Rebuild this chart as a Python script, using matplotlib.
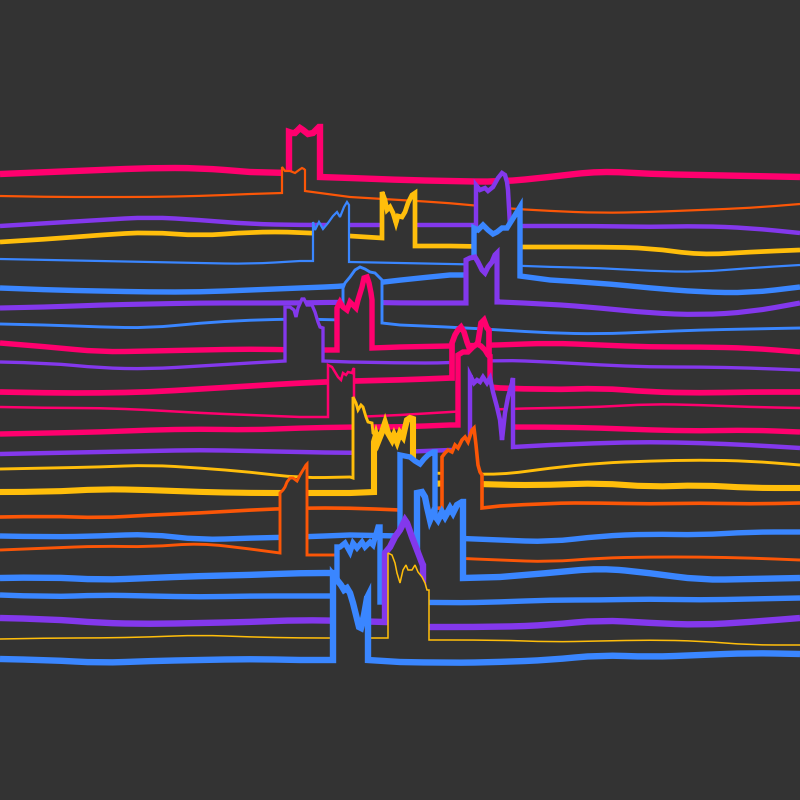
import matplotlib
matplotlib.use("Agg")
import matplotlib.pyplot as plt
from matplotlib.path import Path
from matplotlib.patches import PathPatch

BG = "#333333"
PINK, ORANGE, PURPLE, YELLOW, BLUE = "#FF006E", "#FB5607", "#8338EC", "#FFBE0B", "#3A86FF"

# sample positions of the slow drift, shared by every trace
X_GRID = [0, 50, 100, 150, 200, 250, 300, 350, 400, 450, 500, 550, 600, 650, 700, 750, 800]

# depth of each trace (top = 0) at X_GRID, plus its burst segment
LEVEL_01 = [174, 172, 170, 168, 168, 172, 173, 178, 180, 181, 182, 177, 171, 174, 175, 176, 177]
BUMP_X_01 = [289, 289, 292, 295, 300, 303, 308, 313, 316, 319, 320, 320]
BUMP_Y_01 = [173, 132, 133, 133, 128, 130, 134, 133, 130, 127, 127, 177]

LEVEL_02 = [196, 197, 197, 197, 196, 194, 193, 197, 200, 203, 208, 211, 213, 212, 210, 208, 204]
BUMP_X_02 = [282, 282, 285, 290, 295, 299, 302, 304, 305, 305]
BUMP_Y_02 = [193, 167, 171, 171, 173, 170, 168, 169, 170, 191]

LEVEL_03 = [226, 223, 220, 217, 220, 224, 225, 225, 225, 225, 226, 226, 226, 227, 226, 228, 233]
BUMP_X_03 = [476, 476, 480, 485, 488, 493, 498, 502, 505, 507, 508, 510]
BUMP_Y_03 = [225, 185, 190, 188, 191, 187, 178, 173, 175, 182, 190, 226]

LEVEL_04 = [242, 239, 235, 232, 236, 232, 232, 236, 238, 246, 247, 247, 247, 248, 255, 252, 250]
BUMP_X_04 = [382, 382, 385, 387, 390, 393, 396, 398, 402, 405, 408, 412, 415, 415]
BUMP_Y_04 = [238, 192, 200, 210, 207, 213, 223, 216, 217, 212, 203, 195, 193, 246]

LEVEL_05 = [259, 260, 261, 262, 263, 264, 261, 262, 263, 264, 265, 267, 268, 271, 272, 268, 265]
BUMP_X_05 = [313, 313, 315, 319, 323, 328, 333, 337, 340, 344, 347, 349, 349]
BUMP_Y_05 = [261, 222, 230, 222, 229, 223, 216, 212, 217, 207, 202, 205, 262]

LEVEL_06 = [288, 290, 291, 292, 292, 290, 288, 286, 280, 275, 276, 280, 283, 288, 292, 293, 287]
BUMP_X_06 = [474, 474, 478, 483, 488, 493, 497, 502, 507, 512, 517, 520, 520]
BUMP_Y_06 = [275, 228, 230, 225, 230, 234, 232, 228, 228, 220, 212, 207, 276]

LEVEL_07 = [308, 307, 305, 304, 303, 303, 303, 302, 303, 303, 302, 304, 308, 313, 315, 312, 303]
BUMP_X_07 = [466, 466, 470, 475, 478, 482, 485, 488, 492, 495, 497, 497]
BUMP_Y_07 = [303, 260, 258, 257, 262, 270, 273, 267, 262, 255, 253, 302]

LEVEL_08 = [324, 325, 327, 328, 323, 320, 319, 321, 325, 327, 330, 333, 334, 332, 330, 329, 328]
BUMP_X_08 = [343, 343, 345, 350, 355, 360, 365, 370, 375, 380, 382, 382]
BUMP_Y_08 = [320, 288, 283, 277, 270, 267, 269, 272, 273, 278, 280, 323]

LEVEL_09 = [343, 347, 352, 351, 350, 349, 350, 350, 347, 346, 345, 343, 345, 347, 347, 348, 352]
BUMP_X_09 = [337, 337, 340, 343, 347, 350, 353, 356, 358, 362, 364, 367, 369, 371, 372, 372]
BUMP_Y_09 = [350, 308, 302, 307, 310, 302, 305, 308, 300, 287, 278, 277, 283, 293, 300, 348]

LEVEL_10 = [362, 363, 368, 369, 366, 363, 361, 362, 363, 363, 360, 362, 365, 367, 367, 368, 370]
BUMP_X_10 = [285, 285, 290, 294, 296, 298, 302, 304, 307, 312, 315, 318, 320, 323, 323]
BUMP_Y_10 = [361, 307, 307, 310, 317, 308, 299, 299, 305, 305, 312, 322, 327, 328, 361]

LEVEL_11 = [392, 393, 393, 392, 389, 386, 383, 381, 380, 378, 388, 390, 388, 392, 393, 392, 392]
BUMP_X_11 = [452, 452, 455, 458, 461, 464, 467, 470, 474, 478, 481, 484, 487, 489, 489]
BUMP_Y_11 = [378, 343, 335, 330, 327, 332, 342, 350, 352, 342, 323, 320, 328, 330, 387]

LEVEL_12 = [407, 408, 408, 410, 413, 415, 417, 417, 415, 412, 409, 408, 407, 404, 405, 407, 408]
BUMP_X_12 = [328, 328, 332, 335, 338, 341, 343, 346, 348, 352, 353, 354, 354]
BUMP_Y_12 = [417, 365, 367, 372, 377, 380, 373, 375, 372, 373, 370, 368, 417]

LEVEL_13 = [434, 433, 432, 430, 429, 430, 428, 427, 427, 425, 427, 427, 428, 430, 431, 430, 432]
BUMP_X_13 = [458, 458, 463, 468, 473, 477, 481, 485, 488, 490, 490]
BUMP_Y_13 = [425, 355, 352, 352, 347, 344, 346, 350, 355, 356, 427]

LEVEL_14 = [454, 453, 452, 451, 450, 451, 452, 453, 452, 450, 446, 445, 443, 442, 443, 445, 448]
BUMP_X_14 = [470, 470, 474, 477, 480, 483, 487, 490, 493, 497, 500, 502, 505, 508, 512, 513, 513]
BUMP_Y_14 = [450, 375, 383, 380, 382, 377, 383, 378, 392, 407, 420, 440, 413, 397, 383, 378, 447]

LEVEL_15 = [469, 468, 467, 465, 468, 472, 478, 477, 473, 473, 475, 468, 463, 461, 460, 461, 465]
BUMP_X_15 = [353, 353, 356, 358, 361, 363, 366, 368, 372, 373, 375, 375]
BUMP_Y_15 = [478, 397, 403, 410, 405, 407, 417, 422, 423, 433, 435, 475]

LEVEL_16 = [492, 492, 489, 490, 492, 493, 493, 493, 488, 483, 485, 485, 483, 487, 485, 488, 488]
BUMP_X_16 = [374, 374, 376, 378, 382, 385, 388, 392, 394, 397, 400, 403, 405, 407, 410, 413, 413]
BUMP_Y_16 = [492, 442, 435, 442, 432, 423, 433, 440, 435, 442, 433, 437, 428, 420, 418, 419, 485]

LEVEL_17 = [517, 516, 518, 515, 513, 510, 508, 508, 510, 508, 506, 503, 503, 504, 503, 504, 503]
BUMP_X_17 = [442, 442, 445, 448, 452, 455, 458, 462, 465, 468, 472, 474, 476, 478, 480, 482, 482]
BUMP_Y_17 = [508, 457, 453, 450, 452, 445, 448, 440, 437, 442, 430, 428, 445, 465, 472, 475, 508]

LEVEL_18 = [536, 537, 536, 534, 540, 538, 537, 535, 536, 538, 540, 542, 536, 534, 535, 532, 532]
BUMP_X_18 = [400, 400, 405, 410, 415, 420, 424, 428, 433, 435, 435]
BUMP_Y_18 = [536, 455, 456, 457, 461, 464, 459, 455, 452, 452, 538]

LEVEL_19 = [550, 548, 546, 547, 543, 549, 554, 555, 555, 558, 560, 562, 558, 557, 557, 558, 560]
BUMP_X_19 = [280, 280, 283, 285, 287, 290, 293, 297, 300, 303, 306, 307, 307]
BUMP_Y_19 = [553, 493, 490, 487, 482, 478, 478, 481, 475, 470, 465, 464, 555]

LEVEL_20 = [578, 577, 580, 578, 576, 575, 573, 573, 574, 576, 577, 573, 568, 573, 580, 579, 578]
BUMP_X_20 = [417, 417, 422, 425, 427, 430, 433, 438, 442, 445, 450, 453, 457, 462, 463, 463]
BUMP_Y_20 = [575, 493, 492, 497, 507, 520, 513, 520, 512, 517, 508, 513, 505, 502, 502, 578]

LEVEL_21 = [595, 597, 595, 596, 597, 596, 596, 598, 602, 603, 602, 600, 600, 599, 600, 599, 598]
BUMP_X_21 = [337, 337, 340, 345, 350, 353, 357, 362, 365, 370, 373, 378, 380, 380]
BUMP_Y_21 = [596, 547, 547, 543, 552, 543, 548, 542, 547, 542, 545, 527, 527, 602]

LEVEL_22 = [618, 619, 623, 624, 623, 622, 620, 621, 624, 627, 627, 625, 620, 623, 625, 622, 618]
BUMP_X_22 = [385, 385, 390, 395, 400, 405, 407, 412, 417, 422, 423, 423]
BUMP_Y_22 = [622, 553, 547, 537, 530, 520, 523, 537, 550, 563, 565, 627]

LEVEL_23 = [639, 638, 638, 637, 635, 637, 638, 638, 639, 640, 640, 642, 641, 640, 641, 645, 645]
BUMP_X_23 = [388, 388, 392, 395, 397, 400, 403, 406, 408, 412, 415, 418, 422, 425, 427, 429, 429]
BUMP_Y_23 = [638, 553, 555, 563, 573, 583, 570, 565, 570, 570, 565, 572, 577, 583, 590, 590, 640]

LEVEL_24 = [659, 660, 663, 661, 660, 659, 660, 660, 662, 663, 662, 660, 655, 657, 655, 653, 654]
BUMP_X_24 = [333, 333, 337, 341, 344, 347, 350, 353, 356, 359, 361, 364, 367, 368, 368]
BUMP_Y_24 = [660, 575, 580, 585, 590, 588, 593, 603, 615, 627, 628, 615, 598, 596, 660]

TRACES = [
    (LEVEL_01, BUMP_X_01, BUMP_Y_01), (LEVEL_02, BUMP_X_02, BUMP_Y_02),
    (LEVEL_03, BUMP_X_03, BUMP_Y_03), (LEVEL_04, BUMP_X_04, BUMP_Y_04),
    (LEVEL_05, BUMP_X_05, BUMP_Y_05), (LEVEL_06, BUMP_X_06, BUMP_Y_06),
    (LEVEL_07, BUMP_X_07, BUMP_Y_07), (LEVEL_08, BUMP_X_08, BUMP_Y_08),
    (LEVEL_09, BUMP_X_09, BUMP_Y_09), (LEVEL_10, BUMP_X_10, BUMP_Y_10),
    (LEVEL_11, BUMP_X_11, BUMP_Y_11), (LEVEL_12, BUMP_X_12, BUMP_Y_12),
    (LEVEL_13, BUMP_X_13, BUMP_Y_13), (LEVEL_14, BUMP_X_14, BUMP_Y_14),
    (LEVEL_15, BUMP_X_15, BUMP_Y_15), (LEVEL_16, BUMP_X_16, BUMP_Y_16),
    (LEVEL_17, BUMP_X_17, BUMP_Y_17), (LEVEL_18, BUMP_X_18, BUMP_Y_18),
    (LEVEL_19, BUMP_X_19, BUMP_Y_19), (LEVEL_20, BUMP_X_20, BUMP_Y_20),
    (LEVEL_21, BUMP_X_21, BUMP_Y_21), (LEVEL_22, BUMP_X_22, BUMP_Y_22),
    (LEVEL_23, BUMP_X_23, BUMP_Y_23), (LEVEL_24, BUMP_X_24, BUMP_Y_24),
]

COLORS = [PINK, ORANGE, PURPLE, YELLOW, BLUE, BLUE, PURPLE, BLUE, PINK, PURPLE, PINK, PINK,
          PINK, PURPLE, YELLOW, YELLOW, ORANGE, BLUE, ORANGE, BLUE, BLUE, PURPLE, YELLOW, BLUE]
WIDTHS = [4.6, 1.6, 3.2, 3.4, 1.6, 3.9, 3.7, 2.1, 3.9, 2.4, 4.1, 1.8,
          3.9, 3.2, 2.1, 4.4, 2.6, 3.9, 2.1, 4.6, 3.9, 4.6, 1.1, 4.6]


def smooth_run(pts, verts, codes):
    # drift part: quadratic curve through grid samples (control points), ends pinned
    for k in range(1, len(pts) - 1):
        mid = ((pts[k][0] + pts[k + 1][0]) / 2, (pts[k][1] + pts[k + 1][1]) / 2)
        verts += [pts[k], mid]
        codes += [Path.CURVE3, Path.CURVE3]
    if len(pts) > 1:
        verts.append(pts[-1])
        codes.append(Path.LINETO)


def build_path(level, bx, by):
    left = [(x, y) for x, y in zip(X_GRID, level) if x < bx[0]]
    right = [(x, y) for x, y in zip(X_GRID, level) if x > bx[-1]]
    verts, codes = [left[0]], [Path.MOVETO]
    smooth_run(left, verts, codes)
    for p in zip(bx, by):
        verts.append(p)
        codes.append(Path.LINETO)
    verts.append(right[0])
    codes.append(Path.LINETO)
    smooth_run(right, verts, codes)
    return verts, codes


fig = plt.figure(figsize=(8, 8), dpi=100)
fig.patch.set_facecolor(BG)
ax = fig.add_axes([0, 0, 1, 1])
ax.set_facecolor(BG)

# back to front: each trace masks what lies behind it
for i, (level, bx, by) in enumerate(TRACES):
    verts, codes = build_path(level, bx, by)
    fill_path = Path(verts + [(800, 800), (0, 800), verts[0]],
                     codes + [Path.LINETO, Path.LINETO, Path.CLOSEPOLY])
    ax.add_patch(PathPatch(fill_path, facecolor=BG, edgecolor="none", zorder=2 * i + 1))
    ax.add_patch(PathPatch(Path(verts, codes), facecolor="none", edgecolor=COLORS[i],
                           lw=WIDTHS[i], joinstyle="miter", capstyle="butt",
                           zorder=2 * i + 2))

ax.set_xlim(0, 800)
ax.set_ylim(800, 0)
ax.axis("off")

plt.savefig("out.png", dpi=100, facecolor=BG)
plt.close()
